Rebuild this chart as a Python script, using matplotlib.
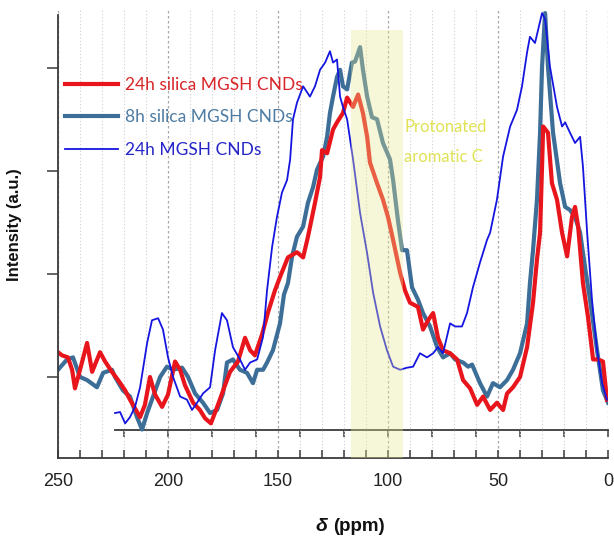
import matplotlib
matplotlib.use("Agg")
import matplotlib.pyplot as plt
from matplotlib.lines import Line2D

# 13C NMR spectra, chemical shift (ppm) vs intensity (a.u.)
red_ppm = [250, 248.2, 245.5, 243.6, 242.3, 240, 236.8, 234.5, 230.9, 228.6, 225.5, 222.7,
           219.5, 217.3, 212.7, 210.5, 208.2, 205.9, 202.7, 200, 196.8, 194.5, 192.3, 188.6,
           185.5, 183.2, 180.5, 177.3, 174.1, 171.8, 168.2, 165, 162.7, 160.5, 157.3, 154.5,
           151.4, 149.1, 145.5, 141.4, 138.6, 136.4, 133.2, 130.9, 130, 127.7, 125, 123.2,
           120.5, 118.6, 115.9, 113.6, 111.4, 109.5, 108.2, 105, 102.3, 100, 97.7, 94.5,
           92.3, 90, 86.4, 84.1, 81.8, 79.5, 77.3, 75, 71.8, 68.6, 65.9, 62.7, 59.5, 56.8,
           53.6, 50.5, 47.7, 45.9, 43.2, 40, 36.8, 34.1, 32.3, 30.9, 30, 29.5, 27.3, 25.5,
           23.2, 20.9, 18.6, 16.4, 15, 13.6, 11.4, 9.1, 6.8, 4.5, 2.3, 0.5]
red_int = [0.24, 0.21, 0.19, 0.07, -0.11, 0.07, 0.33, 0.05, 0.24, 0.15, 0.05, -0.03,
           -0.13, -0.22, -0.39, -0.27, 0.00, -0.17, -0.29, -0.17, 0.15, 0.07, -0.08, -0.25,
           -0.32, -0.40, -0.45, -0.27, -0.08, 0.05, 0.15, 0.38, 0.26, 0.21, 0.41, 0.63,
           0.84, 0.97, 1.16, 1.21, 1.16, 1.36, 1.69, 1.94, 2.20, 2.17, 2.40, 2.47,
           2.56, 2.71, 2.62, 2.74, 2.56, 2.33, 2.08, 1.88, 1.72, 1.55, 1.33, 1.01,
           0.84, 0.72, 0.68, 0.46, 0.55, 0.62, 0.38, 0.26, 0.23, 0.17, -0.03, -0.11, -0.27, -0.19,
           -0.32, -0.25, -0.32, -0.16, -0.10, 0.00, 0.29, 0.72, 1.14, 1.40, 2.04, 2.43, 2.37, 1.88,
           1.72, 1.40, 1.17, 1.55, 1.65, 1.46, 0.91, 0.58, 0.17, 0.17, 0.15, -0.22]

steel_ppm = [250, 245.9, 243.2, 240, 236.8, 232.3, 229.5, 225.5, 224.1, 220.5, 217.3, 214.1,
             211.8, 209.5, 206.8, 203.6, 200.5, 197.7, 193.6, 190.9, 187.7, 184.1, 180.9, 177.7,
             175, 173.2, 170.5, 167.3, 164.1, 161.4, 159.5, 156.8, 155, 152.3, 149.1, 147.3,
             145.5, 143.6, 141.4, 138.6, 136.4, 134.1, 132.3, 129.5, 127.7, 126.4, 125, 123.2,
             121.8, 120.5, 118.6, 116.4, 115, 112.7, 111.4, 109.5, 107.3, 105, 102.3, 99.1,
             97.7, 95.5, 93.6, 91.4, 89.1, 86.4, 84.1, 80.9, 77.7, 75, 71.8, 69.5, 65.9, 63.6,
             61.8, 58.2, 55, 52.3, 49.1, 45.9, 43.2, 40, 36.8, 35.5, 34.1, 32.3, 30.9, 30,
             28.6, 27.3, 25, 21.8, 19.5, 17.3, 15, 12.7, 10.5, 8.2, 5, 2.3, 0]
steel_int = [0.07, 0.17, 0.19, 0.00, -0.03, -0.10, 0.04, 0.07, 0.00, -0.13, -0.19, -0.39,
             -0.51, -0.35, -0.19, 0.00, 0.10, 0.07, 0.09, 0.00, -0.16, -0.25, -0.35, -0.32,
             -0.16, 0.14, 0.17, 0.07, 0.04, -0.06, 0.07, 0.07, 0.14, 0.26, 0.52, 0.80,
             0.91, 1.17, 1.36, 1.46, 1.69, 1.84, 2.01, 2.14, 2.33, 2.56, 2.72, 2.91,
             2.98, 2.82, 2.79, 3.05, 3.06, 3.20, 2.98, 2.72, 2.52, 2.50, 2.27, 2.11,
             1.91, 1.52, 1.23, 1.23, 0.87, 0.75, 0.62, 0.49, 0.29, 0.19, 0.23, 0.17, 0.14, 0.10,
             0.12, -0.06, -0.19, -0.06, -0.10, -0.03, 0.07, 0.23, 0.52, 0.91, 1.23, 1.72, 2.37, 3.01,
             3.53, 3.01, 2.37, 1.88, 1.65, 1.62, 1.55, 1.40, 1.07, 0.75, 0.26, -0.13, -0.25]

blue_ppm = [224.1, 221.8, 219.5, 217.3, 215, 212.7, 209.5, 207.3, 204.5, 202.3, 200, 197.7,
            194.5, 191.4, 189.1, 186.8, 184.1, 180.9, 178.6, 175.5, 173.2, 170.5, 167.3, 165,
            162.7, 159.5, 156.8, 155, 152.7, 150.5, 148.2, 145.9, 144.5, 143.2, 141.4, 138.6,
            135.5, 133.2, 130.9, 128.6, 126.4, 125, 123.2, 121.8, 120.5, 118.6, 115.9, 112.7,
            109.5, 106.8, 103.6, 100.5, 97.7, 94.5, 91.4, 88.6, 85.5, 82.3, 79.5, 77.3, 75,
            71.8, 69.5, 66.4, 64.1, 61.4, 58.2, 55, 53.6, 50.5, 47.7, 44.5, 41.4, 39.1, 36.8,
            35.5, 33.2, 30, 28.6, 26.4, 23.2, 20.9, 19.5, 17.3, 15, 12.7, 11.4, 9.5, 7.3, 5,
            2.7, 0.5]
blue_int = [-0.35, -0.34, -0.45, -0.39, -0.29, -0.10, 0.33, 0.55, 0.57, 0.46, 0.19, 0.00,
            -0.19, -0.22, -0.32, -0.25, -0.16, -0.10, 0.26, 0.62, 0.55, 0.29, 0.17, 0.07,
            0.14, 0.17, 0.39, 0.84, 1.26, 1.55, 1.79, 1.91, 2.11, 2.50, 2.66, 2.82,
            2.72, 2.82, 2.98, 3.05, 3.16, 3.05, 3.08, 2.72, 2.62, 2.50, 2.11, 1.59,
            1.20, 0.82, 0.49, 0.26, 0.10, 0.07, 0.09, 0.10, 0.23, 0.19, 0.23, 0.29, 0.23,
            0.52, 0.49, 0.49, 0.62, 0.87, 1.11, 1.33, 1.40, 1.72, 2.14, 2.43, 2.59, 2.82, 3.15,
            3.30, 3.24, 3.53, 3.47, 3.01, 2.62, 2.43, 2.47, 2.37, 2.27, 2.33, 2.04, 1.40, 0.75, 0.26,
            -0.06, -0.22]

labels = ["24h silica MGSH CNDs", "8h silica MGSH CNDs", "24h MGSH CNDs"]
colors = ["#e8161c", "#3d6e98", "#1515e0"]
label_colors = ["#d8262a", "#4d7ba2", "#2626c8"]
band = (93, 117)          # protonated aromatic C region, ppm
band_top = 3.37
inner_axis_start = 224
ymin, ymax = -0.786, 3.56

fig = plt.figure(figsize=(6.14, 5.38), dpi=100)
ax = fig.add_axes([0.0945, 0.1487, 0.8958, 0.8327])

ax.plot(red_ppm, red_int, color=colors[0], lw=3.0, zorder=2.2)
ax.plot(steel_ppm, steel_int, color=colors[1], lw=3.0, zorder=2.1)
ax.plot(blue_ppm, blue_int, color=colors[2], lw=1.3, zorder=2.3)

ax.set_xlim(250, 0)
ax.set_ylim(ymin, ymax)

# yellow band drawn over the curves
ax.fill_between(band, ymin, band_top, color="#e8e890", alpha=0.35, lw=0, zorder=3)
ax.text(92.7, 2.28, "Protonated\naromatic C", color="#e0e255", fontsize=12,
        family="Lato", linespacing=2.1, va="center", ha="left", zorder=4)

# axes styling
for s in ["top", "right"]:
    ax.spines[s].set_visible(False)
for s in ["left", "bottom"]:
    ax.spines[s].set_color("#3a3a3a")
    ax.spines[s].set_linewidth(1.3)
ax.spines["left"].set_bounds(ymin, 3.515)

ax.set_xticks(range(0, 251, 50))
ax.set_xticks(range(0, 251, 10), minor=True)
ax.tick_params(axis="x", which="both", direction="in", length=6, width=1.1,
               color="#3a3a3a", labelsize=13, pad=11)
ax.set_yticks([0, 1, 2, 3])
ax.tick_params(axis="y", direction="out", length=8, width=1.1, color="#3a3a3a",
               labelleft=False)
for lab in ax.get_xticklabels():
    lab.set_family("Liberation Sans")
    lab.set_color("#222222")

ax.grid(which="minor", axis="x", ls=(0, (1, 2)), color="#cfcfcf", lw=0.8)
ax.grid(which="major", axis="x", ls=(0, (2, 2)), color="#a8a8a8", lw=0.9)
ax.set_axisbelow(True)

# inner shift axis
sec = ax.secondary_xaxis(0.0625)
sec.set_xticks(range(0, 221, 20))
sec.tick_params(direction="out", length=5, width=1.1, color="#3a3a3a", labelbottom=False)
sec.spines["bottom"].set_bounds(0, inner_axis_start)
sec.spines["bottom"].set_color("#3a3a3a")
sec.spines["bottom"].set_linewidth(1.3)

# labels
ax.set_ylabel("Intensity (a.u.)", fontsize=12, fontweight="bold", family="Liberation Sans",
              color="#111111")
ax.yaxis.set_label_coords(-0.065, 0.52)
xl = ax.set_xlabel("(ppm)", fontsize=13.5, fontweight="bold", family="Liberation Sans",
                   color="#111111", va="center", ha="left")
ax.xaxis.set_label_coords(0.5, -0.154)
ax.annotate("δ ", xy=(0, 0.5), xycoords=xl, ha="right", va="center", fontsize=14,
            fontweight="bold", style="italic", family="Liberation Sans", color="#111111")

handles = [Line2D([], [], color=colors[0], lw=3.0),
           Line2D([], [], color=colors[1], lw=3.0),
           Line2D([], [], color=colors[2], lw=1.3)]
ax.legend(handles, labels, loc="upper left", bbox_to_anchor=(-0.006, 0.874), frameon=False,
          handlelength=3.05, handletextpad=0.4, labelspacing=0.95, borderaxespad=0.2,
          prop={"family": "Lato", "size": 12.5}, labelcolor=label_colors)

fig.savefig("out.png", dpi=100)
